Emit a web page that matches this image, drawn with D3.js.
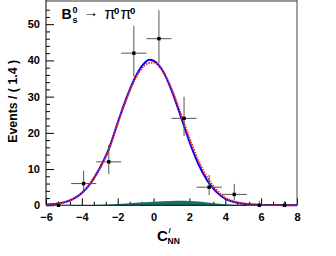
<!DOCTYPE html>
<html>
<head>
	<meta charset="utf-8">
	<title>Bs to pi0 pi0</title>
	<script src="https://cdn.jsdelivr.net/npm/d3@7"></script>
</head>
<style type="text/css">
body { margin: 0; background: #fff; }
text { font-family: "Liberation Sans", Arial, sans-serif; }
.tick text { font-size: 11px; font-weight: bold; fill: #000; }
.tick line { stroke: #000; }
</style>
<body>
</body>
<script type="text/javascript">
	var w = 336;
	var h = 256;

	// data
	var binCenters = [-5.3, -3.9, -2.5, -1.1, 0.3, 1.7, 3.1, 4.5, 5.9, 7.3];
	var counts = [0, 6, 12, 42, 46, 24, 5, 3, 0, 0];
	var errLow = [0, 2.38, 3.41, 6.45, 6.76, 4.86, 2.16, 1.63, 0, 0];
	var errHigh = [1.15, 3.58, 4.61, 7.53, 7.84, 5.97, 3.38, 2.92, 1.15, 1.15];
	var binHalf = 0.7;

	var curveX = [-6, -5.5, -5, -4.5, -4, -3.5, -3, -2.5, -2, -1.5, -1, -0.5, -0.25, 0, 0.5, 1, 1.5, 2, 2.5, 3, 3.5, 4, 4.5, 5, 5.5, 6, 7, 8];
	var totalY = [0.15, 0.35, 0.8, 1.7, 3.4, 6.2, 10.3, 15.5, 22.8, 29.8, 35.6, 39.3, 40.2, 39.9, 37.2, 31.8, 24.8, 17.6, 11.4, 6.8, 3.7, 1.8, 0.9, 0.4, 0.2, 0.1, 0.05, 0.02];
	var signalY = [0.15, 0.35, 0.8, 1.7, 3.4, 6.2, 10.2, 15.4, 22.6, 29.5, 35.1, 38.6, 39.3, 39.4, 37.2, 32.2, 25.6, 18.6, 12.4, 7.6, 4.3, 2.1, 1.0, 0.5, 0.25, 0.12, 0.05, 0.02];

	var bkgX = [-6, -5, -4, -3, -2, -1, 0, 1, 1.5, 2, 3, 4, 5, 6, 7, 8];
	var bkgY = [0, 0.02, 0.05, 0.15, 0.35, 0.7, 1.0, 1.2, 1.25, 1.2, 0.8, 0.3, 0.1, 0.03, 0.01, 0];

	var xMajor = [-6, -4, -2, 0, 2, 4, 6, 8];
	var yMajor = [0, 10, 20, 30, 40, 50];

	var svg = d3.select("body").append("svg").attr("width", w).attr("height", h);

	var x = d3.scaleLinear().domain([-6, 8]).range([46, 297]);
	var y = d3.scaleLinear().domain([0, 56.4]).range([205.3, 1]);

	// minor ticks
	var xMinor = d3.range(-6, 8.01, 2 / 3).filter(function(v){ return Math.abs(Math.round(v / 2) * 2 - v) > 0.01; });
	var yMinor = d3.range(0, 56, 2).filter(function(v){ return v % 10 != 0; });

	svg.append("g").attr("transform", "translate(0," + y(0) + ")")
		.call(d3.axisBottom(x).tickValues(xMinor).tickSize(-3.5).tickFormat(""))
		.call(function(g){ g.select(".domain").remove(); });
	svg.append("g").attr("transform", "translate(0," + y(0) + ")")
		.call(d3.axisBottom(x).tickValues(xMajor).tickSize(-7).tickPadding(7.5))
		.call(function(g){ g.select(".domain").remove(); });

	svg.append("g").attr("transform", "translate(" + x(-6) + ",0)")
		.call(d3.axisLeft(y).tickValues(yMinor).tickSize(-4).tickFormat(""))
		.call(function(g){ g.select(".domain").remove(); });
	svg.append("g").attr("transform", "translate(" + x(-6) + ",0)")
		.call(d3.axisLeft(y).tickValues(yMajor).tickSize(-8).tickPadding(6))
		.call(function(g){ g.select(".domain").remove(); });

	// background component
	var bkg = bkgX.map(function(d, i){ return [d, bkgY[i]]; });
	svg.append("path")
		.attr("d", d3.area().curve(d3.curveMonotoneX)
			.x(function(d){ return x(d[0]); })
			.y0(y(0))
			.y1(function(d){ return y(d[1]); })(bkg))
		.attr("fill", "#16706b");

	// total fit and signal
	var line = d3.line().curve(d3.curveMonotoneX)
		.x(function(d){ return x(d[0]); })
		.y(function(d){ return y(d[1]); });
	svg.append("path")
		.attr("d", line(curveX.map(function(d, i){ return [d, totalY[i]]; })))
		.attr("fill", "none").attr("stroke", "#0000ff").attr("stroke-width", 2);
	svg.append("path")
		.attr("d", line(curveX.map(function(d, i){ return [d, signalY[i]]; })))
		.attr("fill", "none").attr("stroke", "#ff2020").attr("stroke-width", 2)
		.attr("stroke-dasharray", "1.5,1.2");

	// frame
	svg.append("line").attr("x1", x(-6)).attr("x2", x(8)).attr("y1", 1).attr("y2", 1)
		.attr("stroke", "#9a9a9a").attr("stroke-width", 2);
	svg.append("line").attr("x1", x(8)).attr("x2", x(8)).attr("y1", 0).attr("y2", y(0))
		.attr("stroke", "#444").attr("stroke-width", 1);
	svg.append("line").attr("x1", x(-6)).attr("x2", x(-6)).attr("y1", 0).attr("y2", y(0))
		.attr("stroke", "#000").attr("stroke-width", 1);
	svg.append("line").attr("x1", x(-6)).attr("x2", x(8)).attr("y1", y(0)).attr("y2", y(0))
		.attr("stroke", "#000").attr("stroke-width", 1);

	// data points
	var pts = svg.selectAll("g.pt").data(binCenters).enter().append("g").attr("class", "pt");
	pts.append("line")
		.attr("x1", function(d){ return x(d - binHalf); })
		.attr("x2", function(d){ return x(d + binHalf); })
		.attr("y1", function(d, i){ return y(counts[i]); })
		.attr("y2", function(d, i){ return y(counts[i]); })
		.attr("stroke", "#555").attr("stroke-width", 1);
	pts.append("line")
		.attr("x1", function(d){ return x(d); })
		.attr("x2", function(d){ return x(d); })
		.attr("y1", function(d, i){ return y(counts[i] - errLow[i]); })
		.attr("y2", function(d, i){ return y(counts[i] + errHigh[i]); })
		.attr("stroke", "#555").attr("stroke-width", 1);
	pts.append("rect")
		.attr("x", function(d){ return x(d) - 1.7; })
		.attr("y", function(d, i){ return y(counts[i]) - 1.7; })
		.attr("width", 3.4).attr("height", 3.4)
		.attr("fill", "#000");

	// titles
	svg.append("text")
		.attr("transform", "translate(17,60) rotate(-90)")
		.attr("text-anchor", "end")
		.attr("font-size", 12.3).attr("font-weight", "bold")
		.text("Events / ( 1.4 )");

	svg.append("text").attr("x", 157).attr("y", 241)
		.attr("font-size", 15).attr("font-weight", "bold").text("C");
	svg.append("text").attr("x", 168.5).attr("y", 233)
		.attr("font-size", 8).attr("font-weight", "bold").text("/");
	svg.append("text").attr("x", 167.5).attr("y", 244)
		.attr("font-size", 8.5).attr("font-weight", "bold").text("NN");

	// decay label
	var lab = svg.append("g");
	lab.append("text").attr("x", 61.5).attr("y", 19)
		.attr("font-size", 14).attr("font-weight", "bold").text("B");
	lab.append("text").attr("x", 72.5).attr("y", 23)
		.attr("font-size", 9).attr("font-weight", "bold").text("s");
	lab.append("text").attr("x", 72.5).attr("y", 12.5)
		.attr("font-size", 9).attr("font-weight", "bold").text("0");
	lab.append("text").attr("x", 83.5).attr("y", 16.5)
		.attr("font-size", 15).attr("font-family", "DejaVu Sans, sans-serif").text("→");
	lab.append("text").attr("x", 104.5).attr("y", 19)
		.attr("font-size", 16).attr("font-family", "Liberation Serif, serif").text("π");
	lab.append("text").attr("x", 114).attr("y", 14)
		.attr("font-size", 9.5).attr("font-weight", "bold").text("0");
	lab.append("text").attr("x", 120.5).attr("y", 19)
		.attr("font-size", 16).attr("font-family", "Liberation Serif, serif").text("π");
	lab.append("text").attr("x", 130).attr("y", 14)
		.attr("font-size", 9.5).attr("font-weight", "bold").text("0");
</script>
</html>
